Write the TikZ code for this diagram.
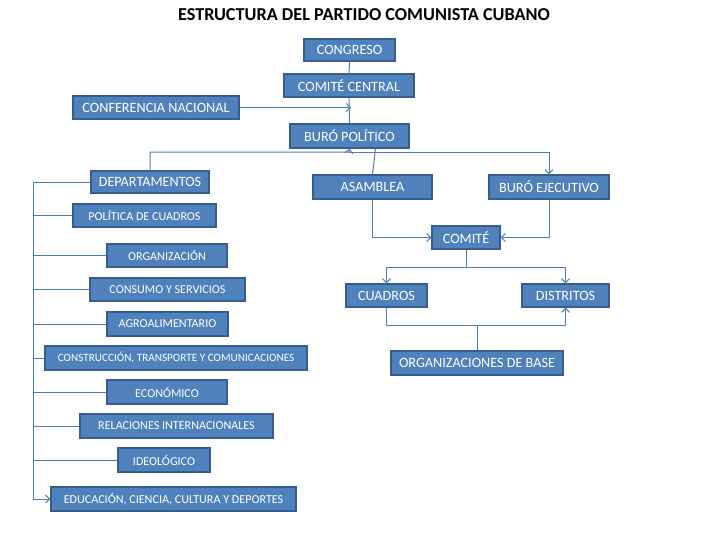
\documentclass[tikz,border=0pt]{standalone}
\usepackage{fontspec}
\setmainfont{Carlito}
\usetikzlibrary{arrows.meta}
\definecolor{boxblue}{HTML}{4F81BD}
\definecolor{boxedge}{HTML}{385D8A}
\definecolor{linkblue}{HTML}{4A7EBB}
\tikzset{
  orgbox/.style={draw=boxedge, line width=1.2pt, fill=boxblue, text=white, inner sep=0pt, font=\fontsize{14.2}{15}\selectfont},
  depbox/.style={orgbox, font=\fontsize{12.1}{13}\selectfont},
  link/.style={draw=linkblue, line width=1pt},
  arr/.style={link, -{Straight Barb[length=4pt,width=8pt]}},
}
\begin{document}
\begin{tikzpicture}[x=1pt,y=-1pt]
\useasboundingbox[fill=white] (0,0) rectangle (728,546);
\node[font=\bfseries\fontsize{18.2}{19}\selectfont] (title) at (364,15) {ESTRUCTURA DEL PARTIDO COMUNISTA CUBANO};
% main boxes
\node[orgbox, minimum width=91, minimum height=22] (cong) at (349.5,50) {CONGRESO};
\node[orgbox, minimum width=130, minimum height=23] (cc) at (349,85.5) {COMITÉ CENTRAL};
\node[orgbox, minimum width=166, minimum height=23] (cn) at (156,107.5) {CONFERENCIA NACIONAL};
\node[orgbox, minimum width=119, minimum height=24] (bp) at (349.5,136) {BURÓ POLÍTICO};
\node[orgbox, minimum width=118, minimum height=22] (dep) at (150,182) {DEPARTAMENTOS};
\node[orgbox, minimum width=119, minimum height=24] (asam) at (372.5,187) {ASAMBLEA};
\node[orgbox, minimum width=120, minimum height=24] (be) at (549,187) {BURÓ EJECUTIVO};
\node[orgbox, minimum width=68, minimum height=23] (com) at (466,237.5) {COMITÉ};
\node[orgbox, minimum width=81, minimum height=23] (cua) at (386.5,295.5) {CUADROS};
\node[orgbox, minimum width=87, minimum height=23] (dis) at (565.5,295.5) {DISTRITOS};
\node[orgbox, minimum width=172, minimum height=24] (org) at (477,363) {ORGANIZACIONES DE BASE};
% departments
\node[depbox, minimum width=143, minimum height=23] (pc) at (144.5,215.5) {POLÍTICA DE CUADROS};
\node[depbox, minimum width=120, minimum height=23] (orgz) at (167,255.5) {ORGANIZACIÓN};
\node[depbox, minimum width=155, minimum height=23] (cons) at (167.5,289.5) {CONSUMO Y SERVICIOS};
\node[depbox, minimum width=121, minimum height=24] (agro) at (167.5,324) {AGROALIMENTARIO};
\node[depbox, minimum width=262, minimum height=24, font=\fontsize{11.2}{12}\selectfont] (constr) at (176,358) {CONSTRUCCIÓN, TRANSPORTE Y COMUNICACIONES};
\node[depbox, minimum width=120, minimum height=24] (eco) at (167,392) {ECONÓMICO};
\node[depbox, minimum width=193, minimum height=24] (ri) at (176.5,426) {RELACIONES INTERNACIONALES};
\node[depbox, minimum width=92, minimum height=24] (ideo) at (164,460) {IDEOLÓGICO};
\node[depbox, minimum width=245, minimum height=24] (edu) at (173.5,499) {EDUCACIÓN, CIENCIA, CULTURA Y DEPORTES};
% helper coordinates
\coordinate (cnend) at (351,107.5);
\coordinate (bpjoin) at (349,152);
\coordinate (bus) at (33,182);
\coordinate (busend) at (33,487);
% top chain
\draw[link] (cong.south) -- (cc.north);
\draw[link] (cc.south) -- (bp.north);
\draw[arr] (cn.east) -- (cnend);
% buro politico
\draw[arr] (dep.north) |- (bpjoin) -- (bp.south);
\draw[arr] (bpjoin) -| (be.north);
\draw[link] ([xshift=26]bp.south) -- (asam.north);
% comite
\draw[arr] (asam.south) |- (com.west);
\draw[arr] (be.south) |- (com.east);
\coordinate (comjoin) at (466,267);
\draw[link] (com.south) -- (comjoin);
\draw[arr] (comjoin) -| (cua.north);
\draw[arr] (comjoin) -| (dis.north);
\coordinate (basejoin) at (477,325);
\draw[link] (cua.south) |- (basejoin);
\draw[arr] (basejoin) -| (dis.south);
\draw[link] (org.north) -- (basejoin);
% department bus
\draw[link] (dep.west) -- (bus) -- (busend);
\draw[arr] (busend) |- (edu.west);
\foreach \n in {pc,orgz,cons,agro,constr,eco,ri,ideo}
  \draw[link] (\n.west) -- (bus |- \n.west);
\end{tikzpicture}
\end{document}
